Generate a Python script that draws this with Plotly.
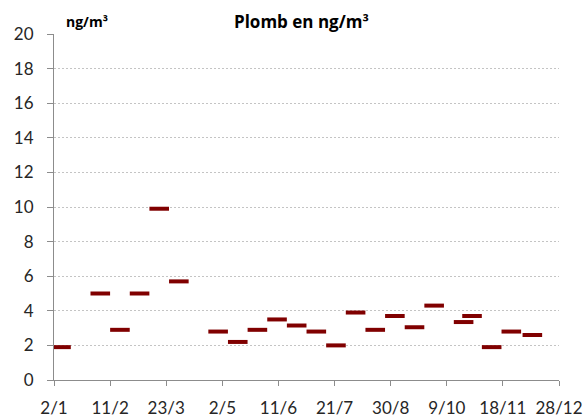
import plotly.graph_objects as go

# sampling dates (centre of each weekly sample) and lead concentrations
dates = ["2013-01-07", "2013-02-04", "2013-02-18", "2013-03-04", "2013-03-18",
         "2013-04-01", "2013-04-29", "2013-05-13", "2013-05-27", "2013-06-10",
         "2013-06-24", "2013-07-08", "2013-07-22", "2013-08-05", "2013-08-19",
         "2013-09-02", "2013-09-16", "2013-09-30", "2013-10-21", "2013-10-27",
         "2013-11-10", "2013-11-24", "2013-12-09"]
plomb = [1.9, 5.0, 2.9, 5.0, 9.9, 5.7, 2.8, 2.2, 2.9, 3.5, 3.15, 2.8,
         2.0, 3.9, 2.9, 3.7, 3.05, 4.3, 3.35, 3.7, 1.9, 2.8, 2.6]

tick_dates = ["2013-01-02", "2013-02-11", "2013-03-23", "2013-05-02", "2013-06-11",
              "2013-07-21", "2013-08-30", "2013-10-09", "2013-11-18", "2013-12-28"]
tick_labels = ["2/1", "11/2", "23/3", "2/5", "11/6", "21/7", "30/8", "9/10", "18/11", "28/12"]

font = "Lato, 'Open Sans', sans-serif"
bold_font = "'Open Sans', sans-serif"

fig = go.Figure(go.Scatter(
    x=dates, y=plomb, mode="markers",
    marker=dict(symbol="line-ew", size=14, line=dict(width=4, color="#800000")),
))

fig.update_layout(
    width=587, height=417,
    margin=dict(l=54, r=28, t=34, b=37),
    paper_bgcolor="white", plot_bgcolor="white",
    showlegend=False,
    font=dict(family=font, size=17, color="#262626"),
    xaxis=dict(range=["2013-01-02", "2013-12-28"], tickvals=tick_dates, ticktext=tick_labels,
               showgrid=False, showline=True, linecolor="#8c8c8c", linewidth=1, automargin=False,
               ticks="outside", ticklen=5, tickcolor="#8c8c8c", zeroline=False,
               ticklabelstandoff=8),
    yaxis=dict(range=[0, 20], dtick=2, showgrid=True, gridcolor="#c4c4c4", griddash="2px,2px",
               showline=True, linecolor="#8c8c8c", linewidth=1, automargin=False,
               ticks="outside", ticklen=6, tickcolor="#8c8c8c", zeroline=False,
               ticklabelstandoff=10),
    annotations=[
        dict(text="<b>Plomb en ng/m³</b>", xref="paper", yref="paper", x=0.491, y=1.037,
             xanchor="center", yanchor="middle", showarrow=False,
             font=dict(size=17, family=bold_font, color="#000000")),
        dict(text="<b>ng/m³</b>", xref="paper", yref="paper", x=0.065, y=1.037,
             xanchor="center", yanchor="middle", showarrow=False,
             font=dict(size=14, family=bold_font, color="#000000")),
    ],
)

# drop the page's default body margin so the chart sits at the window's corner
fig.write_html("out.html", config={"displayModeBar": False},
               post_script="document.body.style.margin='0';")
